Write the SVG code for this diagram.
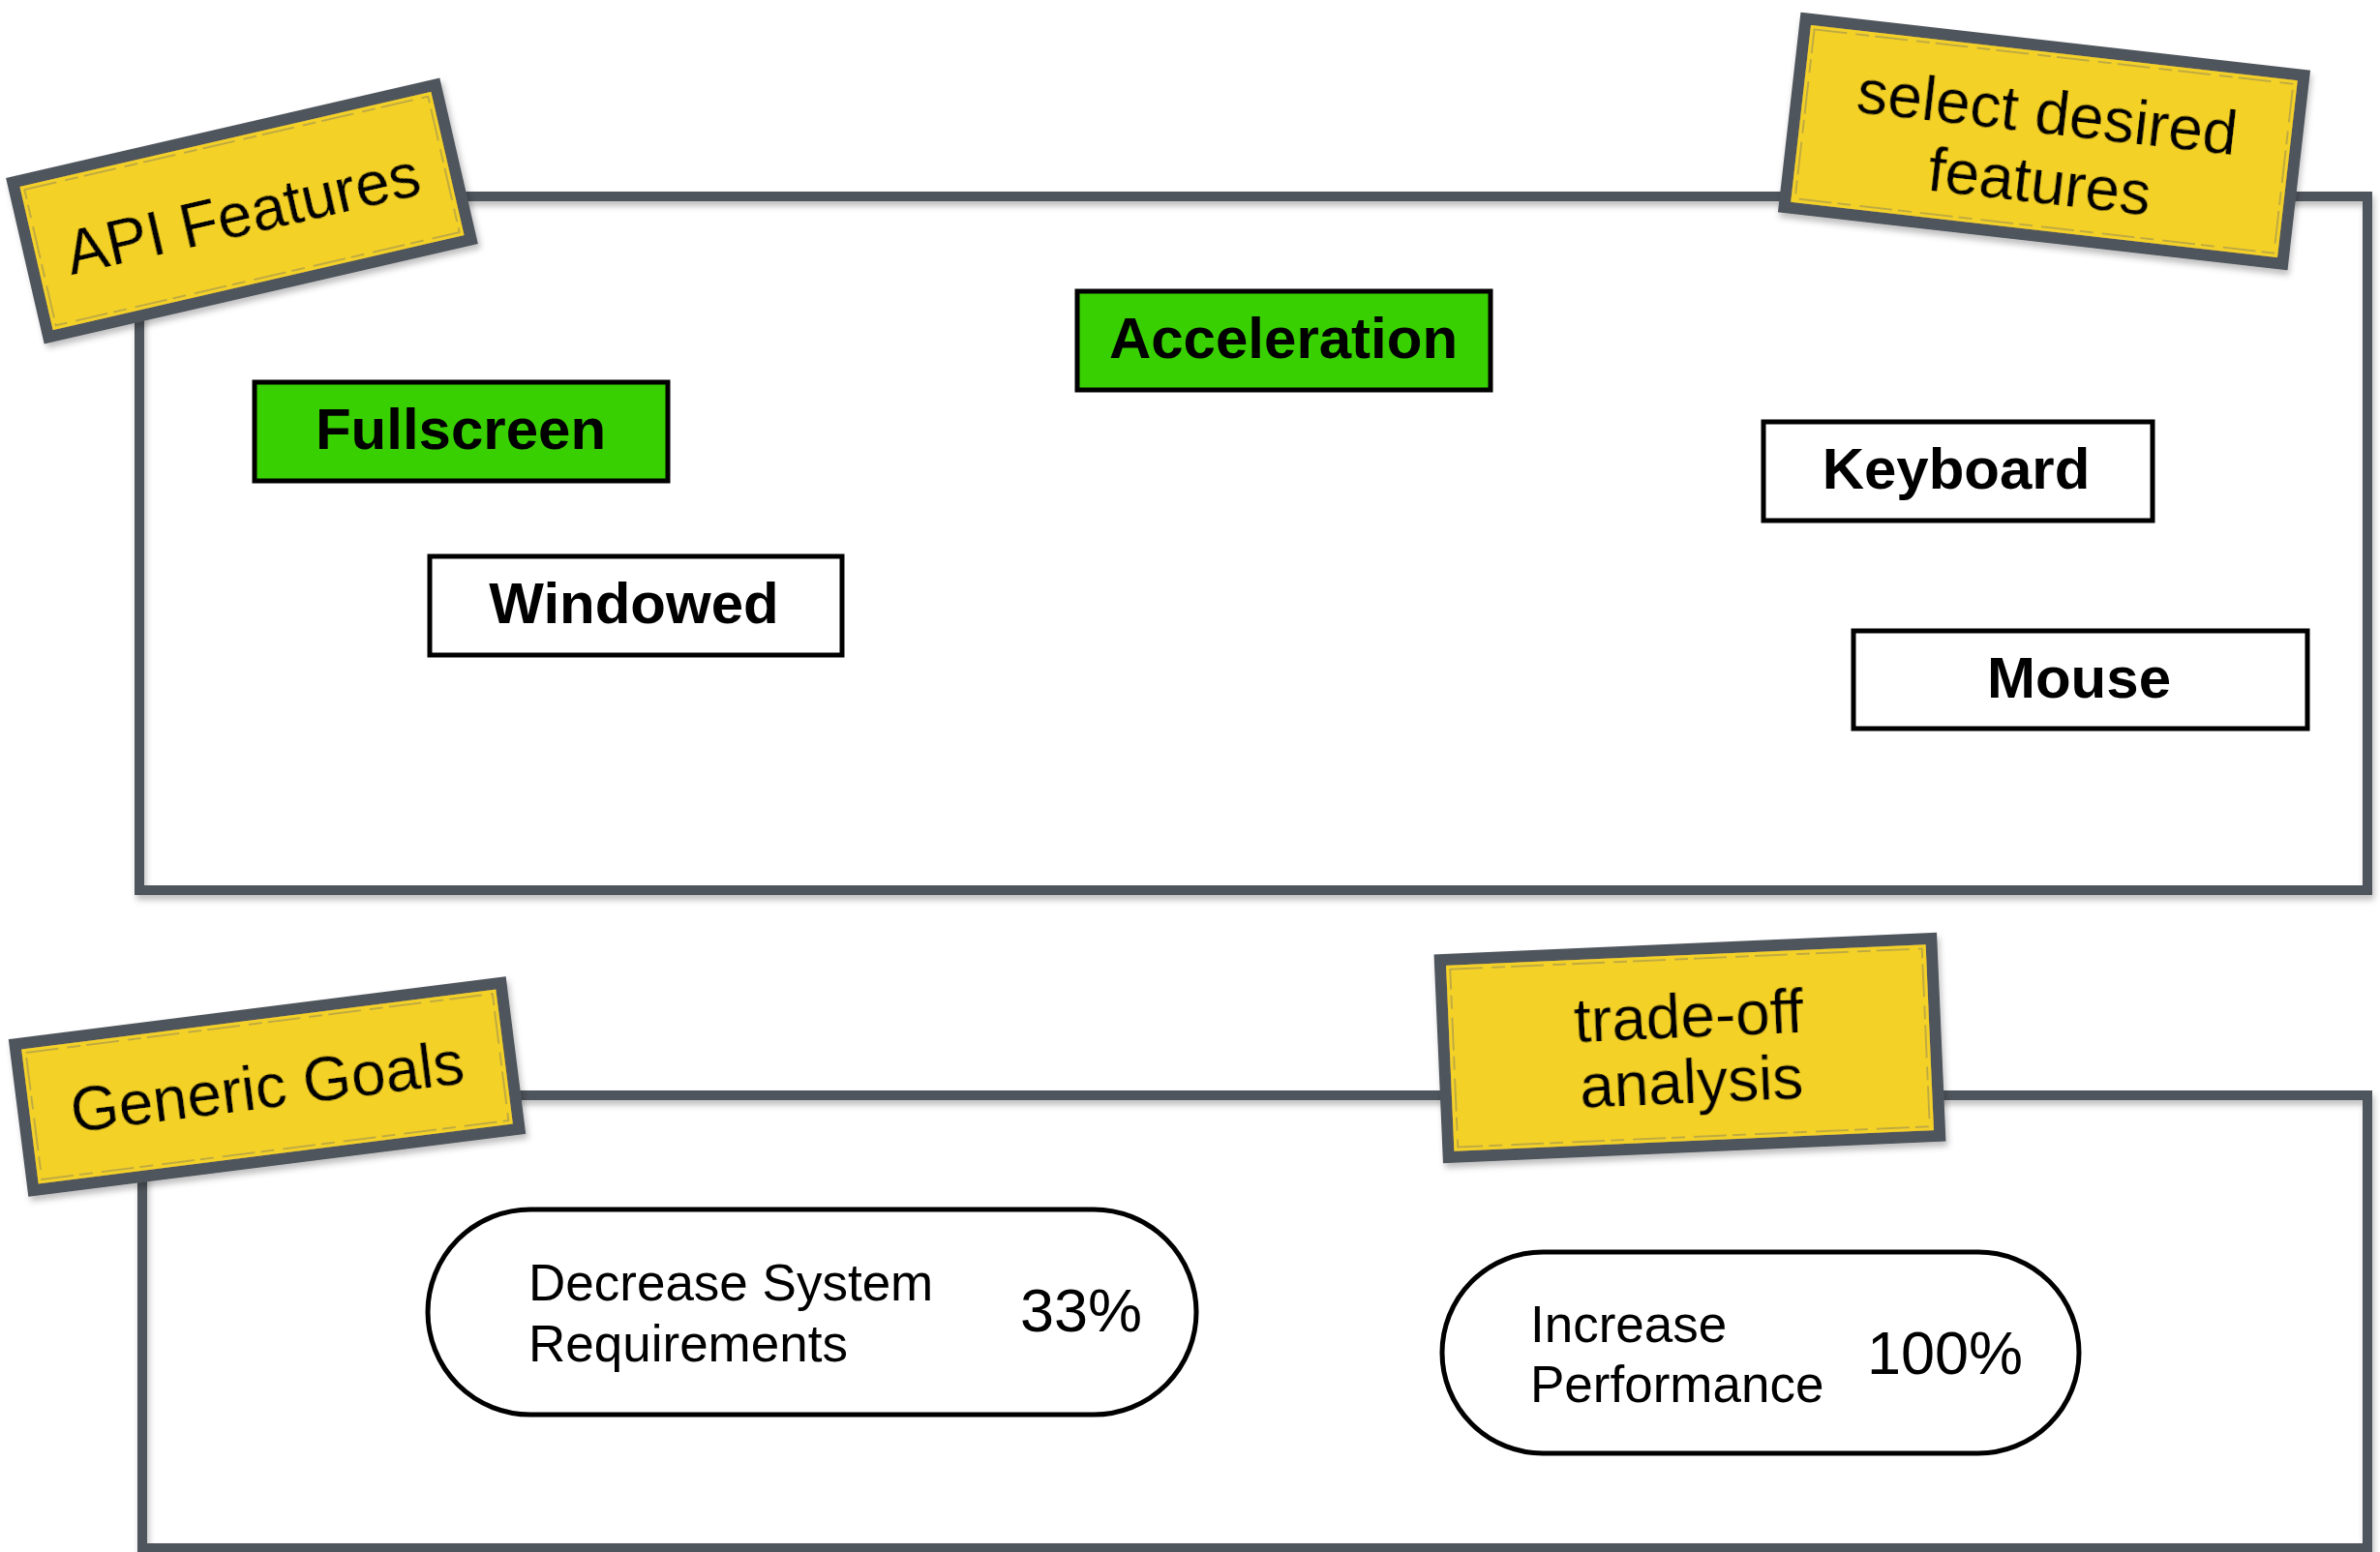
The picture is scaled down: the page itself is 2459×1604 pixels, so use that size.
<svg xmlns="http://www.w3.org/2000/svg" width="2459" height="1604" viewBox="0 0 2459 1604">
<defs>
<filter id="sh" x="-10%" y="-10%" width="125%" height="135%">
<feDropShadow dx="2" dy="5" stdDeviation="3" flood-color="#000" flood-opacity="0.25"/>
</filter>
<style>
.frame{fill:none;stroke:#50555C;stroke-width:10;}
.tag{fill:#F4D126;stroke:#50555C;stroke-width:12;}
.tagin{fill:none;stroke:#7E7C66;stroke-width:1.5;stroke-dasharray:34 9 14 6;opacity:.6}
.tagtxt{font-family:"Liberation Sans",Arial,sans-serif;font-size:64px;fill:#000;text-anchor:middle}
.feat{stroke:#000;stroke-width:5}
.on{fill:#38D000}
.off{fill:#fff}
.ftxt{font-family:"Liberation Sans",Arial,sans-serif;font-weight:bold;font-size:60px;text-anchor:middle;fill:#000}
.pill{fill:#fff;stroke:#000;stroke-width:5}
.gtxt{font-family:"Liberation Sans",Arial,sans-serif;font-size:53px;fill:#000}
.pct{font-family:"Liberation Sans",Arial,sans-serif;font-size:63px;fill:#000}
</style>
</defs>
<rect width="2459" height="1604" fill="#fff"/>
<g id="connectors">
<rect id="frame-api" class="frame" x="144" y="203" width="2302" height="717" filter="url(#sh)"/>
<rect id="frame-goals" class="frame" x="147" y="1132" width="2299" height="468" filter="url(#sh)"/>
</g>
<g id="label-api-features" transform="translate(250,218) rotate(-13)" filter="url(#sh)">
<rect class="tag" x="-224" y="-82" width="448" height="164"/>
<rect class="tagin" x="-214" y="-72" width="428" height="144"/>
<text class="tagtxt" x="0" y="25">API Features</text>
</g>
<g id="label-select" transform="translate(2112,146) rotate(6.5)" filter="url(#sh)">
<rect class="tag" x="-259" y="-98" width="518" height="196"/>
<rect class="tagin" x="-249" y="-88" width="498" height="176"/>
<text class="tagtxt" x="0" y="-8">select desired</text>
<text class="tagtxt" x="0" y="64">features</text>
</g>
<g id="label-generic-goals" transform="translate(276,1123) rotate(-7.2)" filter="url(#sh)">
<rect class="tag" x="-253" y="-76" width="506" height="152"/>
<rect class="tagin" x="-243" y="-66" width="486" height="132"/>
<text class="tagtxt" x="0" y="22">Generic Goals</text>
</g>
<g id="label-tradeoff" transform="translate(1746,1083) rotate(-2.5)" filter="url(#sh)">
<rect class="tag" x="-254" y="-102" width="508" height="204"/>
<rect class="tagin" x="-244" y="-92" width="488" height="184"/>
<text class="tagtxt" x="0" y="-11">trade-off</text>
<text class="tagtxt" x="0" y="57">analysis</text>
</g>
<g id="node-fullscreen">
<rect class="feat on" x="263" y="395" width="427" height="102"/>
<text class="ftxt" x="476" y="464">Fullscreen</text>
</g>
<g id="node-acceleration">
<rect class="feat on" x="1113" y="301" width="427" height="102"/>
<text class="ftxt" x="1326" y="370">Acceleration</text>
</g>
<g id="node-windowed">
<rect class="feat off" x="444" y="575" width="426" height="102"/>
<text class="ftxt" x="655" y="644">Windowed</text>
</g>
<g id="node-keyboard">
<rect class="feat off" x="1822" y="436" width="402" height="102"/>
<text class="ftxt" x="2021" y="505">Keyboard</text>
</g>
<g id="node-mouse">
<rect class="feat off" x="1915" y="652" width="469" height="101"/>
<text class="ftxt" x="2148" y="721">Mouse</text>
</g>
<g id="node-decrease">
<rect class="pill" x="442" y="1250" width="794" height="212" rx="106" ry="106"/>
<text class="gtxt" x="546" y="1344">Decrease System</text>
<text class="gtxt" x="546" y="1407">Requirements</text>
<text class="pct" x="1054" y="1376">33%</text>
</g>
<g id="node-increase">
<rect class="pill" x="1490" y="1294" width="658" height="208" rx="104" ry="104"/>
<text class="gtxt" x="1581" y="1387">Increase</text>
<text class="gtxt" x="1581" y="1449">Performance</text>
<text class="pct" x="1929" y="1420">100%</text>
</g>
</svg>
